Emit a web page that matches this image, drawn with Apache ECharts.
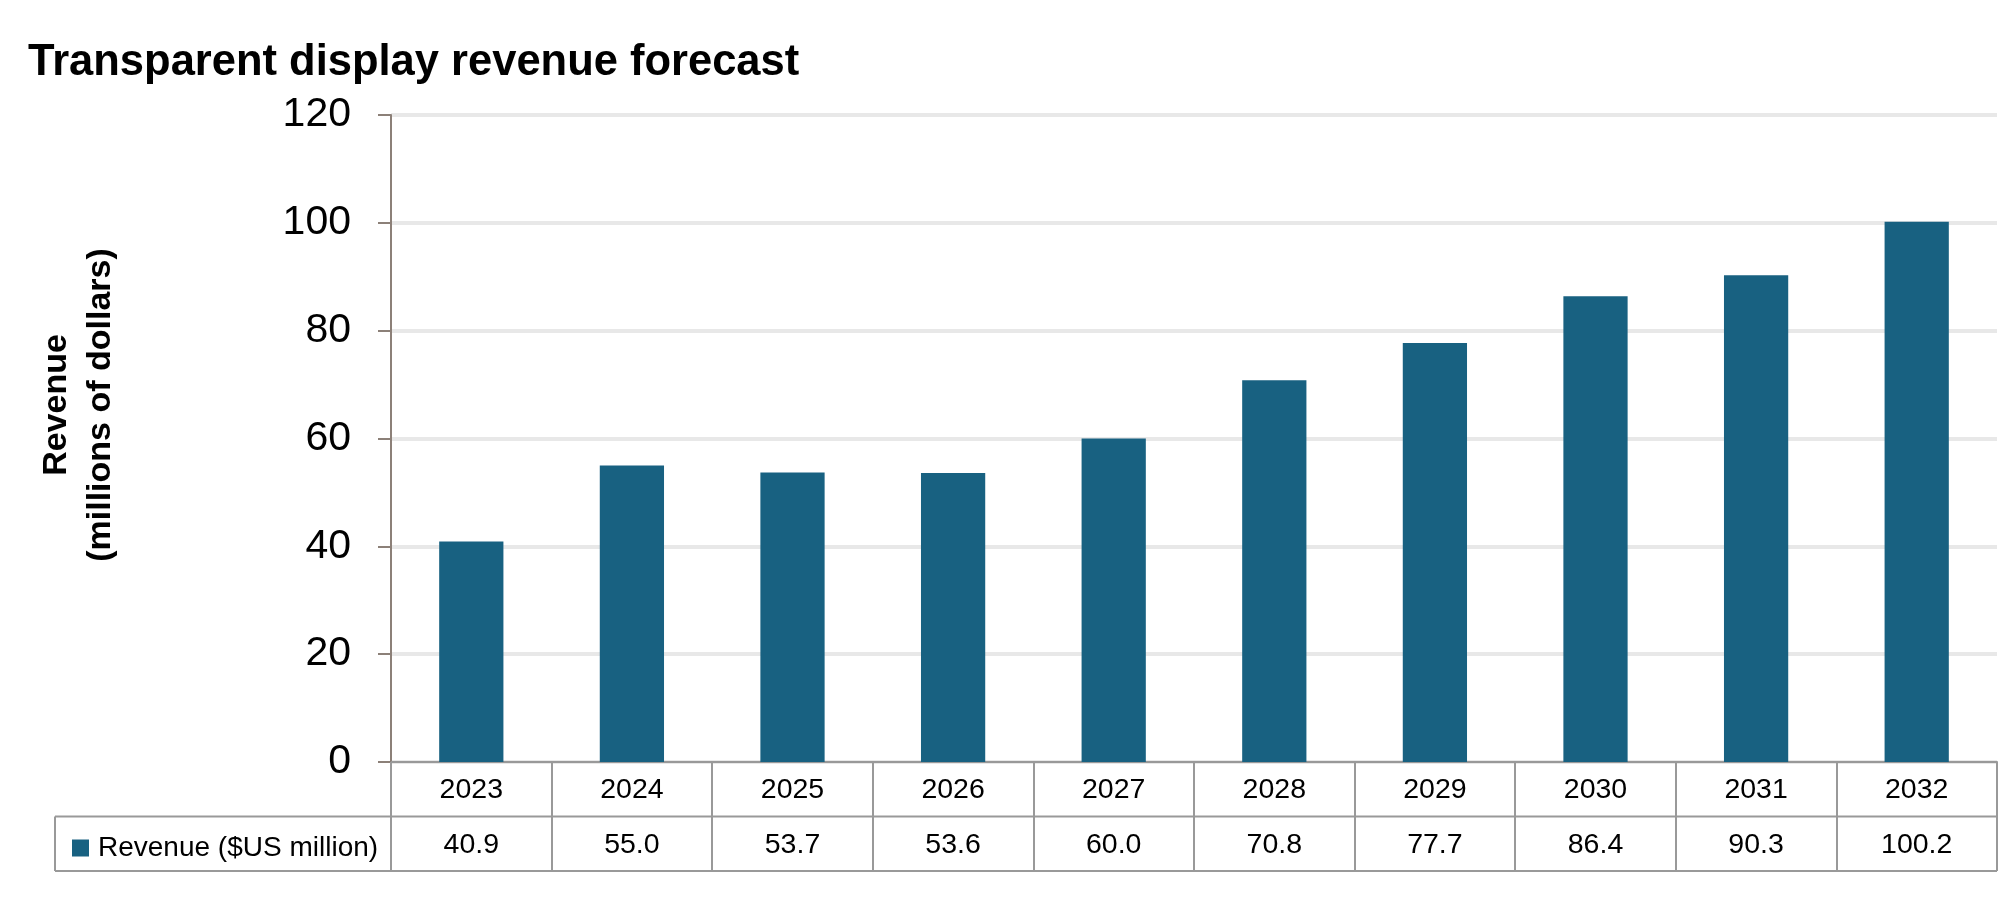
<!DOCTYPE html>
<html>
<head>
<meta charset="utf-8">
<script src="https://cdn.jsdelivr.net/npm/echarts@6/dist/echarts.min.js"></script>
<style>
html,body{margin:0;padding:0;background:#fff;}
#chart{width:2001px;height:897px;}
</style>
</head>
<body>
<div id="chart"></div>
<script>
const years = ['2023','2024','2025','2026','2027','2028','2029','2030','2031','2032'];
const revenue = [40.9, 55.0, 53.7, 53.6, 60.0, 70.8, 77.7, 86.4, 90.3, 100.2];
const seriesName = 'Revenue ($US million)';
const titleText = 'Transparent display revenue forecast';
const yAxisTitle = 'Revenue\n(millions of dollars)';
const yMin = 0, yMax = 120, yStep = 20;

const FONT = '"Liberation Sans", Arial, sans-serif';
const BAR = '#186181';
const TABLE_LINE = '#999999';
const AXIS_LINE = '#8c8078';

const gridL = 391, gridR = 1997, gridT = 115, gridB = 762;
const rowH = 54.5;
const tableLeft = 55;

const chart = echarts.init(document.getElementById('chart'), null, {renderer:'canvas'});
chart.setOption({
  animation: false,
  backgroundColor: '#fff',
  title: {
    text: titleText,
    left: 23, top: 36,
    textStyle: {fontFamily: FONT, fontWeight: 'bold', fontSize: 43.5, color: '#000'}
  },
  legend: {
    data: [seriesName],
    left: 67, top: 829,
    icon: 'rect', itemWidth: 17, itemHeight: 17,
    textStyle: {fontFamily: FONT, fontSize: 28, color: '#000', padding: [0,0,0,4]}
  },
  grid: {left: gridL, right: 2001 - gridR, top: gridT, bottom: 897 - gridB, containLabel: false},
  xAxis: [{
    type: 'category', data: years, position: 'bottom',
    axisLine: {show: true, lineStyle: {color: TABLE_LINE, width: 2}},
    axisTick: {show: true, interval: 0, length: rowH * 2, lineStyle: {color: TABLE_LINE, width: 2}},
    axisLabel: {interval: 0, margin: 14, fontFamily: FONT, fontSize: 28.5, color: '#000'},
    splitLine: {show: false}
  }, {
    type: 'category', data: years, position: 'bottom', offset: rowH,
    axisLine: {show: false}, axisTick: {show: false},
    axisLabel: {interval: 0, margin: 14, fontFamily: FONT, fontSize: 28.5, color: '#000',
      formatter: (v, i) => revenue[i].toFixed(1)},
    splitLine: {show: false}
  }],
  yAxis: {
    type: 'value', min: yMin, max: yMax, interval: yStep,
    axisLine: {show: true, lineStyle: {color: AXIS_LINE, width: 2}},
    axisTick: {show: true, length: 13, lineStyle: {color: AXIS_LINE, width: 2}},
    axisLabel: {margin: 40, fontFamily: FONT, fontSize: 41, color: '#000'},
    splitLine: {show: true, lineStyle: {color: '#e8e8e8', width: 4}}
  },
  series: [{
    name: seriesName, type: 'bar', data: revenue, xAxisIndex: 0,
    barWidth: '40%', itemStyle: {color: BAR}
  }],
  graphic: [
    {type: 'line', shape: {x1: tableLeft, y1: gridB + rowH, x2: gridR, y2: gridB + rowH}, style: {stroke: TABLE_LINE, lineWidth: 2}},
    {type: 'line', shape: {x1: tableLeft, y1: gridB + rowH * 2, x2: gridR, y2: gridB + rowH * 2}, style: {stroke: TABLE_LINE, lineWidth: 2}},
    {type: 'line', shape: {x1: tableLeft, y1: gridB + rowH, x2: tableLeft, y2: gridB + rowH * 2}, style: {stroke: TABLE_LINE, lineWidth: 2}},
    {type: 'text', x: 79, y: 405, rotation: Math.PI / 2,
      style: {text: yAxisTitle, fontFamily: FONT, fontWeight: 'bold', fontSize: 34, lineHeight: 44,
        fill: '#000', align: 'center', verticalAlign: 'middle'}}
  ]
});
</script>
</body>
</html>
